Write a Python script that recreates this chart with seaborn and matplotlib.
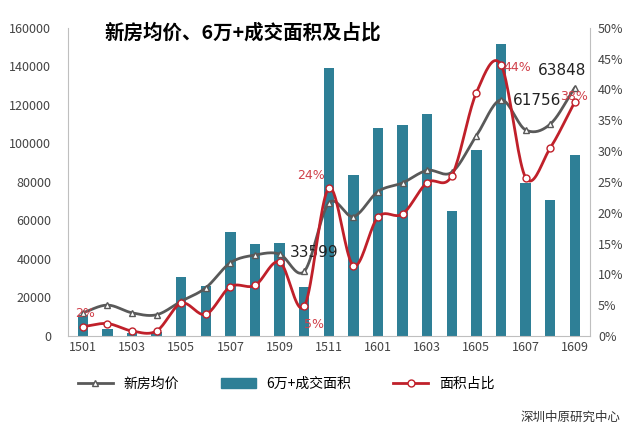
import matplotlib.pyplot as plt
import numpy as np
import pandas as pd
import seaborn as sns

plt.rcParams['font.family'] = ['Noto Sans CJK SC', 'DejaVu Sans']

months = ['1501', '1502', '1503', '1504', '1505', '1506', '1507', '1508', '1509', '1510', '1511', '1512',
          '1601', '1602', '1603', '1604', '1605', '1606', '1607', '1608', '1609']
area = [11000, 3500, 1500, 2000, 30500, 26000, 54000, 47500, 48500, 25500, 139000, 83600,
        108000, 109500, 115500, 65000, 96600, 151700, 79500, 70600, 94000]
price = [12000, 16000, 12000, 11000, 18000, 25000, 38000, 42000, 42500, 33500, 69000, 62000,
         75000, 79500, 86000, 85000, 104000, 122600, 107000, 110000, 129000]
ratio = [1.5, 2.0, 0.8, 0.8, 5.3, 3.5, 8.0, 8.2, 12.0, 4.8, 24.0, 11.4,
         19.3, 19.8, 24.9, 26.0, 39.5, 44.0, 25.7, 30.5, 38.0]
price_notes = {9: '33599', 17: '61756', 20: '63848'}
ratio_notes = {0: '2%', 9: '5%', 10: '24%', 17: '44%', 20: '38%'}

BAR = '#2e7f96'
GREY = '#595959'
RED = '#c0202a'


def smooth(y, n=20):
    # Hermite curve through the points, for drawing only
    y = np.asarray(y, float)
    x = np.arange(len(y))
    m = np.gradient(y)
    xs, ys = [], []
    for i in range(len(y) - 1):
        t = np.linspace(0, 1, n, endpoint=False)
        h00 = 2 * t**3 - 3 * t**2 + 1
        h10 = t**3 - 2 * t**2 + t
        h01 = -2 * t**3 + 3 * t**2
        h11 = t**3 - t**2
        xs.append(x[i] + t)
        ys.append(h00 * y[i] + h10 * m[i] + h01 * y[i + 1] + h11 * m[i + 1])
    xs.append([x[-1]])
    ys.append([y[-1]])
    return np.concatenate(xs), np.concatenate(ys)


df = pd.DataFrame({'month': months, 'area': area})

fig = plt.figure(figsize=(6.36, 4.29), dpi=100)
ax = fig.add_axes([0.107, 0.217, 0.82, 0.718])
sns.barplot(data=df, x='month', y='area', color=BAR, width=0.42, ax=ax, saturation=1, legend=False)

sx, sy = smooth(price)
ax.plot(sx, sy, color=GREY, lw=2, zorder=3)
ax.plot(range(len(price)), price, ls='none', marker='^', ms=4, mfc='white', mec=GREY, zorder=4)
offs = {9: (-0.6, 6000), 17: (0.5, -4000), 20: (-1.5, 5000)}
for i, t in price_notes.items():
    ax.text(i + offs[i][0], price[i] + offs[i][1], t,
            fontsize=11, color='#222222', ha='left', va='bottom', fontfamily='DejaVu Sans')

ax.set_ylim(0, 160000)
ax.set_xlim(-0.6, len(months) - 0.4)
ax.set_yticks(range(0, 160001, 20000))
ax.set_xticks(range(0, len(months), 2))
ax.set_xticklabels(months[::2])
ax.set_xlabel('')
ax.set_ylabel('')
for s in ['top', 'right']:
    ax.spines[s].set_visible(False)
ax.spines['left'].set_color('#bfbfbf')
ax.spines['bottom'].set_color('#bfbfbf')
ax.tick_params(colors='#444444', labelsize=9, length=0)
ax.tick_params(axis='y', pad=12)

ax2 = ax.twinx()
rx, ry = smooth(ratio)
ax2.plot(rx, ry, color=RED, lw=2, zorder=3)
ax2.plot(range(len(ratio)), ratio, ls='none', marker='o', ms=5, mfc='white', mec=RED, zorder=4)
roffs = {0: (-0.3, 1.5), 9: (0.0, -3.5), 10: (-1.3, 1.5), 17: (0.1, -1), 20: (-0.6, 0.3)}
for i, t in ratio_notes.items():
    ax2.text(i + roffs[i][0], ratio[i] + roffs[i][1], t, fontsize=9, color='#d0404a',
             fontfamily='DejaVu Sans')
ax2.set_ylim(0, 50)
ax2.set_yticks(range(0, 51, 5))
ax2.set_yticklabels([f'{v}%' for v in range(0, 51, 5)])
for s in ['top', 'left', 'bottom']:
    ax2.spines[s].set_visible(False)
ax2.spines['right'].set_color('#bfbfbf')
ax2.tick_params(colors='#444444', labelsize=9, length=0, pad=6)

handles = [
    plt.Line2D([], [], color=GREY, lw=2, marker='^', ms=4, mfc='white', mec=GREY),
    plt.Rectangle((0, 0), 1, 1, color=BAR),
    plt.Line2D([], [], color=RED, lw=2, marker='o', ms=5, mfc='white', mec=RED),
]
fig.legend(handles, ['新房均价', '6万+成交面积', '面积占比'],
           loc='center', bbox_to_anchor=(0.45, 0.105), ncol=3, frameon=False,
           fontsize=10, handlelength=2.5, columnspacing=3)

fig.text(0.165, 0.925, '新房均价、6万+成交面积及占比', fontsize=14, fontweight='bold', va='center')
fig.text(0.975, 0.02, '深圳中原研究中心', fontsize=9, ha='right', color='#333333')

fig.savefig('out.png', dpi=100)
